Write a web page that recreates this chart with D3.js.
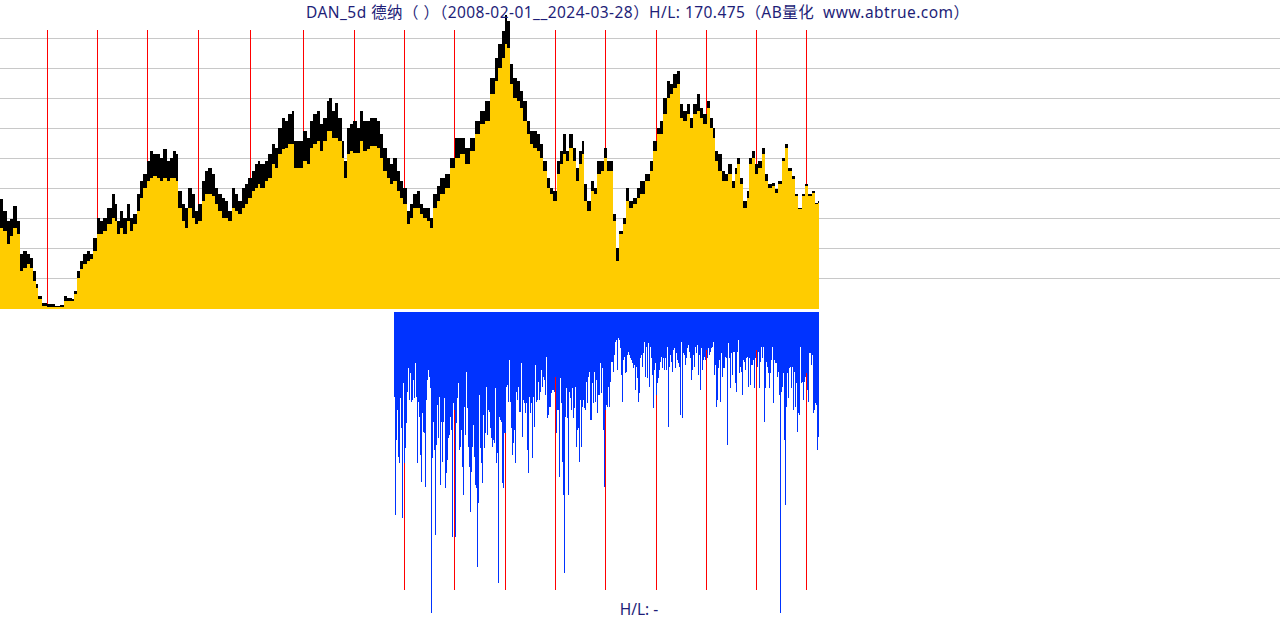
<!DOCTYPE html>
<html><head><meta charset="utf-8">
<script src="https://cdnjs.cloudflare.com/ajax/libs/d3/7.8.5/d3.min.js"></script>
<style>html,body{margin:0;padding:0;background:#fff;overflow:hidden} text{white-space:pre}</style>
</head><body><svg id="c" width="1280" height="620"></svg>
<script>
const titleText = "DAN_5d 德纳（ ）（2008-02-01__2024-03-28）H/L: 170.475（AB量化  www.abtrue.com）";
const footerText = "H/L: -";

// 5-day bar index of each sampled bar (one bar = 5 trading days)
const barIdx = [
0,3,7,10,13,17,20,23,27,30,
33,36,38,42,47,52,55,60,64,67,
72,74,77,80,83,87,90,93,97,100,
103,107,112,115,117,120,123,127,130,133,
137,140,143,147,150,153,157,160,163,167,
170,173,176,178,182,185,188,192,195,198,
202,205,208,212,215,218,222,225,228,232,
235,238,242,245,248,252,255,258,260,265,
268,272,275,278,282,285,288,292,294,297,
300,303,307,310,313,317,320,323,327,329,
332,335,338,342,344,347,350,353,357,360,
363,367,370,373,377,380,383,387,390,393,
397,400,403,407,410,413,417,420,423,427,
430,433,437,440,445,450,455,460,465,470,
475,480,485,490,495,498,502,505,507,510,
513,517,520,523,527,530,533,537,540,543,
547,550,553,557,560,563,566,569,573,576,
579,582,584,587,591,594,597,601,604,607,
611,613,616,619,623,626,629,633,637,640,
645,650,653,657,660,663,667,670,673,677,
680,683,687,690,693,697,700,703,707,710,
713,715,718,722,725,728,732,735,737,740,
743,747,749,752,755,758,762,765,768,772,
775,778,782,785,788,792,795,798,802,805,
808,812,815,818];

const high = [
12.76,11.37,10.21,10.44,11.95,10.21,6.38,6.73,6.38,5.92,
4.41,2.90,1.51,0.70,0.58,0.58,0.30,0.46,1.51,1.28,
1.16,2.09,4.41,5.57,6.38,6.73,6.38,8.24,10.56,10.21,
10.56,11.72,13.34,12.18,10.21,11.37,10.56,12.18,10.56,11.02,
13.34,14.85,15.66,17.17,18.33,17.98,17.98,17.52,18.56,17.17,
17.52,18.33,17.98,13.69,12.18,11.72,14.04,13.34,11.37,12.18,
14.85,16.01,16.36,15.66,14.04,13.34,12.88,12.53,11.37,14.04,
13.34,12.53,14.04,14.50,15.20,16.01,16.82,17.17,16.82,17.17,
17.98,19.14,18.68,21.00,22.16,21.81,22.62,22.97,19.49,19.49,
19.49,20.65,19.84,21.81,22.62,22.97,21.46,22.16,24.13,24.48,
22.97,23.90,22.16,19.49,17.17,21.00,21.46,21.81,21.00,22.97,
21.81,21.81,22.16,22.16,21.81,20.30,18.68,17.52,16.82,17.52,
16.01,14.85,14.04,11.37,12.18,13.34,13.69,12.18,11.72,11.72,
10.56,13.34,14.27,15.20,15.66,17.52,19.84,19.84,18.68,19.84,
21.81,22.97,24.13,26.80,29.12,30.74,32.25,34.10,33.41,28.42,
26.80,26.45,25.29,24.13,21.81,20.65,20.65,20.30,19.14,17.17,
15.20,14.04,13.69,17.17,18.33,20.30,18.33,20.30,18.68,16.36,
18.33,19.49,14.50,12.53,14.85,14.04,17.17,17.17,18.68,17.17,
17.17,11.02,7.08,9.05,10.56,14.04,12.53,12.88,14.04,14.85,
15.66,17.17,19.49,21.00,21.81,24.48,26.45,26.10,27.26,27.61,
23.78,22.97,23.78,22.16,23.78,24.94,23.32,22.62,24.13,22.16,
21.00,18.33,17.98,16.01,15.66,16.82,14.85,16.36,17.52,15.20,
12.53,13.69,17.52,18.33,16.82,17.17,18.68,15.66,14.50,14.62,
13.92,14.85,17.52,19.14,16.36,15.43,13.34,11.72,13.34,14.50,
13.34,13.69,12.30,12.53];

const low = [
9.40,9.05,7.54,8.47,9.40,8.70,4.41,4.76,5.22,4.76,
3.25,2.44,1.16,0.35,0.23,0.23,0.20,0.23,0.93,0.93,
0.93,1.74,3.60,4.64,5.22,5.57,5.80,6.73,8.70,8.70,
9.05,9.86,10.56,10.21,8.70,9.40,8.70,10.21,9.05,9.86,
11.37,12.88,14.04,14.85,15.20,15.43,15.20,14.85,15.20,14.85,
15.20,15.20,14.85,11.72,10.21,9.40,11.72,10.56,9.86,10.21,
12.53,13.34,13.34,13.11,12.18,11.37,10.56,10.56,10.21,11.72,
11.37,11.02,11.72,12.18,12.88,13.69,14.04,14.50,14.04,14.85,
15.20,16.82,16.36,17.98,18.56,18.68,19.14,19.14,16.36,16.36,
16.36,17.17,16.82,18.68,19.14,19.49,18.33,19.49,20.65,20.65,
19.84,19.84,19.49,17.52,15.20,17.98,18.33,18.10,18.10,19.49,
18.33,18.56,18.91,18.91,18.68,17.52,16.01,15.20,14.50,14.85,
13.69,12.88,12.18,9.86,10.56,11.72,11.72,11.02,10.56,10.21,
9.40,11.72,12.53,13.34,14.04,16.36,17.52,17.98,16.82,18.33,
20.30,21.46,21.81,24.94,26.45,27.96,29.12,30.74,30.28,26.10,
24.48,24.13,23.32,21.81,20.30,19.14,18.68,18.33,17.52,16.01,
14.04,13.34,12.53,15.66,16.82,17.98,17.17,18.68,17.17,14.85,
16.82,17.98,12.53,11.37,13.69,13.34,15.66,16.01,17.52,16.01,
16.01,10.21,5.57,8.70,9.86,12.53,11.72,12.18,12.88,13.34,
14.85,16.01,18.33,20.30,20.30,22.62,24.48,24.94,25.64,26.10,
22.16,21.81,22.62,21.00,22.62,22.97,22.16,21.46,23.32,21.00,
19.84,17.17,16.01,14.85,14.85,15.66,14.04,15.66,16.82,14.50,
11.72,12.88,16.82,17.52,15.66,16.36,17.98,14.85,14.04,14.27,
13.46,14.50,17.17,18.68,16.01,15.08,13.11,11.60,13.11,14.27,
13.11,13.46,12.18,12.30];

const totalBars = 819;
const yearLabels = [2009,2010,2011,2012,2013,2014,2015,2016,2017,2018,2019,2020,2021,2022,2023,2024];
const yearBars   = [47,97,147,198,250,303,354,404,454,505,555,605,656,706,756,806];

// lower panel: one value per bar, starting at volStartBar
const volStartBar = 394;
const volDepth = [
85,203,128,98,145,151,86,116,206,71,
151,136,111,80,56,88,61,90,88,68,
86,51,85,151,90,105,143,170,101,120,
121,175,88,68,58,65,76,301,146,110,
138,223,133,93,126,85,173,110,150,110,
86,176,161,148,126,123,105,118,225,91,
98,225,111,86,71,138,135,118,155,183,
95,123,60,96,135,155,200,160,135,113,
145,173,176,255,191,83,136,151,171,103,
136,121,75,123,98,100,116,126,135,128,
131,76,151,141,271,105,108,110,171,176,
121,121,75,73,90,48,90,116,143,131,
118,151,80,88,75,100,100,51,125,88,
91,101,91,138,161,85,101,91,146,85,
115,53,90,88,70,88,80,58,75,65,
68,83,45,106,103,95,95,81,78,78,
80,65,121,98,98,165,66,91,150,183,
261,105,76,106,183,80,86,98,76,106,
96,75,135,118,116,150,88,135,95,88,
96,98,70,91,65,60,108,108,71,91,
60,90,68,101,83,83,
51,81,56,118,175,98,93,95,75,95,
70,50,50,60,43,30,28,58,26,28,
36,63,90,48,45,61,60,43,40,43,
46,48,51,56,53,78,55,66,90,81,
46,43,55,41,30,65,35,66,31,75,
35,46,63,96,58,51,83,71,66,58,
50,45,56,46,58,46,58,35,115,55,
43,50,60,38,36,56,41,48,51,55,
103,30,106,41,43,53,46,36,33,40,
46,68,58,43,55,35,41,33,63,43,
78,36,58,48,45,48,38,46,36,43,
40,36,35,30,63,53,95,88,56,48,
90,41,65,56,56,45,46,133,31,46,
76,41,63,40,40,71,80,40,28,61,
55,60,83,48,50,58,46,45,75,46,
73,53,53,48,76,46,38,55,40,76,
50,35,46,35,110,76,50,55,61,76,
61,48,35,91,48,51,51,65,60,83,
301,80,75,61,128,193,95,61,86,56,
55,76,55,98,60,95,71,120,101,103,
35,71,70,88,70,65,61,78,90,41,
41,53,43,101,98,91,93,138,125];

const gridRows = 10;

// ---------- drawing ----------
const W = 1280;
const svg = d3.select('#c');
const x = d3.scaleLinear().domain([0, totalBars]).range([0, 819]);
const y = d3.scaleLinear().domain([0, 34.8]).range([309, 9]);
const v = d3.scaleLinear().domain([0, 300]).range([312, 612]);
const rowY = d3.scaleLinear().domain([0, gridRows]).range([8, 308]);

const gGrid = svg.append('g').attr('shape-rendering','crispEdges');
gGrid.selectAll('line').data(d3.range(1, gridRows)).join('line')
  .attr('x1', 0).attr('x2', W)
  .attr('y1', d => Math.round(rowY(d)) + 0.5).attr('y2', d => Math.round(rowY(d)) + 0.5)
  .attr('stroke', '#c8c8c8').attr('stroke-width', 1);

const gYearTop = svg.append('g').attr('shape-rendering','crispEdges');
gYearTop.selectAll('line').data(yearBars).join('line')
  .attr('x1', d => Math.round(x(d)) + 0.5).attr('x2', d => Math.round(x(d)) + 0.5)
  .attr('y1', 30).attr('y2', y(0))
  .attr('stroke', '#ff0000').attr('stroke-width', 1);

const pts = barIdx.map((b, i) => ({b, next: i < barIdx.length - 1 ? barIdx[i+1] : totalBars, hi: high[i], lo: low[i]}));

const gArea = svg.append('g').attr('shape-rendering','crispEdges');
gArea.selectAll('rect.g').data(pts).join('rect').attr('class','g')
  .attr('x', d => x(d.b)).attr('width', d => x(d.next) - x(d.b))
  .attr('y', d => y(d.lo)).attr('height', d => y(0) - y(d.lo))
  .attr('fill', '#ffcc00');
gArea.selectAll('rect.k').data(pts).join('rect').attr('class','k')
  .attr('x', d => x(d.b)).attr('width', d => x(d.next) - x(d.b))
  .attr('y', d => y(d.hi)).attr('height', d => Math.max(1, y(d.lo) - y(d.hi)))
  .attr('fill', '#000000');

const gYearBot = svg.append('g').attr('shape-rendering','crispEdges');
gYearBot.selectAll('line').data(yearBars.filter(b => b >= volStartBar)).join('line')
  .attr('x1', d => Math.round(x(d)) + 0.5).attr('x2', d => Math.round(x(d)) + 0.5)
  .attr('y1', v(0)).attr('y2', 590)
  .attr('stroke', '#ff0000').attr('stroke-width', 1);

const gVol = svg.append('g').attr('shape-rendering','crispEdges');
gVol.selectAll('rect').data(volDepth).join('rect')
  .attr('x', (d, i) => x(volStartBar + i)).attr('width', (d, i) => x(volStartBar + i + 1) - x(volStartBar + i))
  .attr('y', v(0)).attr('height', d => v(d) - v(0))
  .attr('fill', '#0033ff');

const fontFam = '"Noto Sans", "Noto Sans CJK SC", sans-serif';
svg.append('text').attr('x', 637.5).attr('y', 17.5).attr('text-anchor','middle')
  .attr('font-family', fontFam).attr('font-size', 15.5)
  .attr('textLength', 663).attr('lengthAdjust', 'spacing')
  .attr('fill', '#1e1e78').text(titleText);
svg.append('text').attr('x', 639).attr('y', 615).attr('text-anchor','middle')
  .attr('font-family', fontFam).attr('font-size', 15.5)
  .attr('fill', '#1e1e78').text(footerText);
</script></body></html>
